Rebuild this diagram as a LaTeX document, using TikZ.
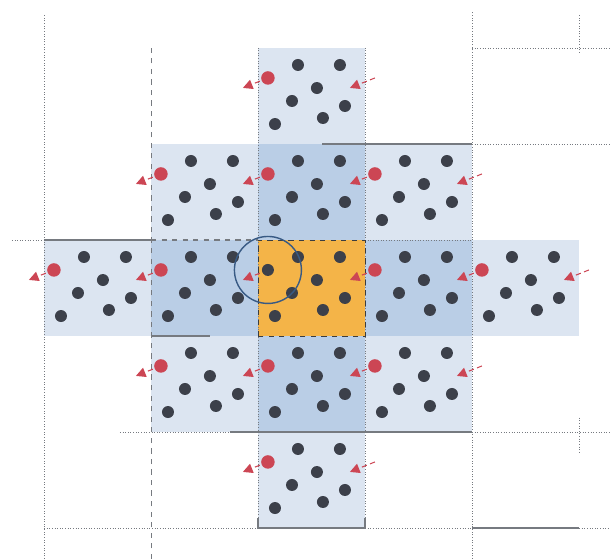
\documentclass[tikz,border=0pt]{standalone}
\usepackage{tikz}
\usetikzlibrary{arrows.meta}

\definecolor{cellorange}{RGB}{244,180,72}
\definecolor{celldark}{RGB}{186,206,230}
\definecolor{celllight}{RGB}{220,229,241}
\definecolor{atomgray}{RGB}{60,64,74}
\definecolor{atomred}{RGB}{204,70,84}
\definecolor{gridgray}{RGB}{118,122,128}
\definecolor{cutblue}{RGB}{56,90,132}

\begin{document}
\begin{tikzpicture}[x=2.14cm,y=1.92cm,line width=0.5pt,
  atom/.style={fill=atomgray},
  ghost/.style={fill=atomred},
  move/.style={atomred,densely dashed,line width=0.6pt,-{Triangle[length=5.5pt,width=5.5pt]}},
  gridline/.style={gridgray,densely dotted},
  wall/.style={gridgray,line width=0.9pt}]
  \useasboundingbox (-2.411,-2.323) rectangle (3.290,3.5);

  % cells of the first and second shell
  \foreach \i/\j in {0/1,-1/0,1/0,0/-1}
    \fill[celldark] (\i,\j) rectangle ++(1,1);
  \foreach \i/\j in {0/2,-1/1,1/1,-2/0,2/0,-1/-1,1/-1,0/-2}
    \fill[celllight] (\i,\j) rectangle ++(1,1);
  \fill[cellorange] (0,0) rectangle (1,1);

  % grid
  \draw[gridline] (-2,-2.323) -- (-2,3.34);
  \draw[gridline,dashed] (-1,-2.323) -- (-1,3.03);
  \draw[gridline] (0,-2) -- (0,3);
  \draw[gridline] (1,-2) -- (1,3);
  \draw[gridline] (2,-2.323) -- (2,3.37);
  \draw[gridline] (3,2.95) -- (3,3.34);
  \draw[gridline] (3,-0.85) -- (3,-1.22);
  \draw[gridline] (2,3) -- (3.29,3);
  \draw[gridline] (2,2) -- (3.29,2);
  \draw[gridline] (-2.3,1) -- (-2,1);
  \draw[gridline] (1,1) -- (2,1);
  \draw[gridline] (-1.29,-1) -- (-0.26,-1);
  \draw[gridline] (2,-1) -- (3.29,-1);
  \draw[gridline] (-2,-2) -- (0,-2);
  \draw[gridline] (1,-2) -- (2,-2);
  \draw[gridline] (3,-2) -- (3.29,-2);
  \draw[wall] (0.6,2) -- (2,2);
  \draw[wall] (-2,1) -- (-1,1);
  \draw[wall,dashed] (-1,1) -- (0,1);
  \draw[wall] (-1,0) -- (-0.45,0);
  \draw[wall] (-0.26,-1) -- (2,-1);
  \draw[wall] (0,-1.9) -- (0,-2) -- (1,-2) -- (1,-1.9);
  \draw[wall] (2,-2) -- (3,-2);
  \draw[gridgray!50!black,dashed] (0,0) rectangle (1,1);

  % images entering from the right
  \foreach \i/\j in {1/2,2/1,3/0,2/-1,1/-2}
    \draw[move] (\i+0.093,\j+0.688) -- ++(-0.234,-0.104);

  % particles in every cell
  \foreach \i/\j in {0/0,0/1,-1/0,1/0,0/-1,0/2,-1/1,1/1,-2/0,2/0,-1/-1,1/-1,0/-2} {
    \foreach \px/\py in {0.374/0.823,0.766/0.823,0.551/0.583,0.318/0.448,0.813/0.396,0.607/0.271,0.159/0.208}
      \fill[atom] (\i+\px,\j+\py) circle (0.12cm);
    \draw[move] (\i+0.093,\j+0.688) -- ++(-0.234,-0.104);
  }
  \foreach \i/\j in {0/1,-1/0,1/0,0/-1,0/2,-1/1,1/1,-2/0,2/0,-1/-1,1/-1,0/-2}
    \fill[ghost] (\i+0.093,\j+0.688) circle (0.135cm);
  \fill[atom] (0.093,0.688) circle (0.12cm);

  % cut-off sphere
  \draw[cutblue,line width=0.8pt] (0.093,0.688) circle (0.67cm);
\end{tikzpicture}
\end{document}
